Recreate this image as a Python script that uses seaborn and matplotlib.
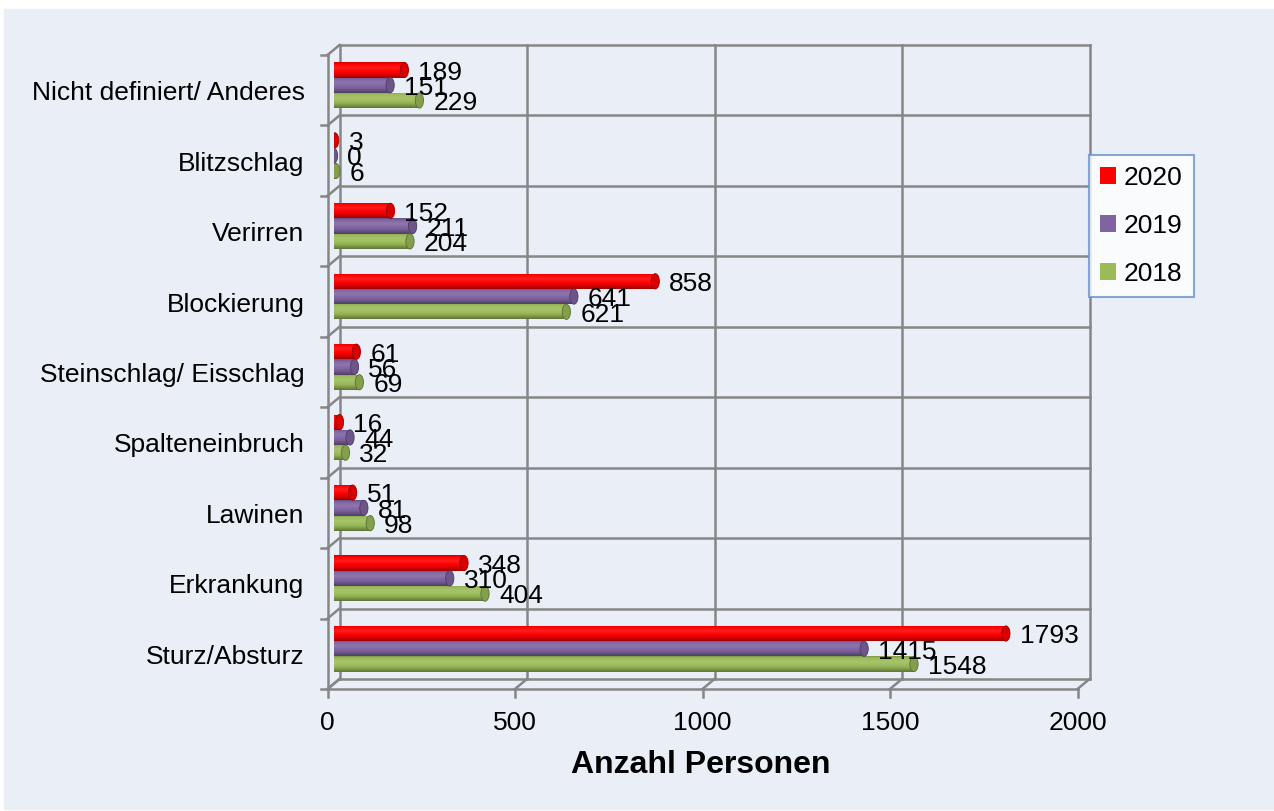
import numpy as np
import pandas as pd
import matplotlib
matplotlib.use("Agg")
import matplotlib.pyplot as plt
import seaborn as sns
from matplotlib.transforms import ScaledTranslation, IdentityTransform
from matplotlib.patches import Rectangle, Ellipse
from matplotlib.lines import Line2D
from matplotlib.colors import to_rgb

# data, top to bottom as in the chart
categories = ["Nicht definiert/ Anderes", "Blitzschlag", "Verirren", "Blockierung",
              "Steinschlag/ Eisschlag", "Spalteneinbruch", "Lawinen", "Erkrankung",
              "Sturz/Absturz"]
years = ["2020", "2019", "2018"]
v2020 = [189, 3, 152, 858, 61, 16, 51, 348, 1793]
v2019 = [151, 0, 211, 641, 56, 44, 81, 310, 1415]
v2018 = [229, 6, 204, 621, 69, 32, 98, 404, 1548]
xticks = [0, 500, 1000, 1500, 2000]

colors = {"2020": "#ff0000", "2019": "#8064a2", "2018": "#9bbb59"}
grid_col = "#868686"
bg = "#eaeff7"

df = pd.DataFrame({
    "Kategorie": categories * 3,
    "Jahr": ["2020"] * 9 + ["2019"] * 9 + ["2018"] * 9,
    "Anzahl": v2020 + v2019 + v2018,
})

plt.rcParams["font.family"] = ["Liberation Sans", "DejaVu Sans"]
fs = 19


def shade(c, f):
    c = np.array(to_rgb(c))
    if f >= 1:
        return c + (1 - c) * (f - 1)
    return c * f


fig = plt.figure(figsize=(12.74, 8.11), dpi=100, facecolor="white")
fig.patches.append(Rectangle((4 / 1274, 2 / 811), 1270 / 1274, 800 / 811,
                             transform=fig.transFigure, color=bg, zorder=-10))
ax = fig.add_axes([333.5 / 1274, 127 / 811, 750 / 1274, 634 / 811])
ax.set_facecolor("none")

sns.barplot(data=df, y="Kategorie", x="Anzahl", hue="Jahr", hue_order=years,
            order=categories, palette=colors, orient="h", width=0.65,
            errorbar=None, ax=ax, zorder=3, saturation=1)
ax.set_xlim(0, 2000)
ax.set_ylim(len(categories) - 0.5, -0.5)

# cylinder-like shading of every bar
prof_t = [0.0, 0.12, 0.35, 0.7, 1.0]
prof_f = [0.82, 1.0, 1.12, 0.95, 0.62]
tt = np.linspace(0, 1, 40)
ff = np.interp(tt, prof_t, prof_f)
cap_w = 22
for cont, yr in zip(ax.containers, years):
    grad = np.array([shade(colors[yr], f) for f in ff])[:, None, :]
    for p in cont:
        x0, y0 = p.get_x(), p.get_y()
        w, hgt = p.get_width(), p.get_height()
        p.set_facecolor("none")
        p.set_edgecolor("none")
        im = ax.imshow(grad, extent=(x0, x0 + w, y0 + hgt, y0), aspect="auto",
                       interpolation="bilinear", zorder=3)
        im.set_clip_path(p)
        ax.add_patch(Ellipse((x0 + w, y0 + hgt / 2), cap_w, hgt,
                             facecolor=shade(colors[yr], 0.85),
                             edgecolor=shade(colors[yr], 0.6), lw=0.6, zorder=3.5))
        ax.add_patch(Ellipse((x0, y0 + hgt / 2), cap_w, hgt,
                             facecolor=shade(colors[yr], 0.95), edgecolor="none", zorder=2.9))
    anns = ax.bar_label(cont, fmt="{:.0f}", padding=10, fontsize=fs, color="black")
    for a in anns:
        a.xyann = (10, -2)
        a.set_zorder(5)

ax.set_xlim(0, 2000)
ax.set_ylim(len(categories) - 0.5, -0.5)
for s in ax.spines.values():
    s.set_visible(False)
ax.set_xticks(xticks)
ax.set_xticklabels([])
ax.set_yticks(range(len(categories)))
ax.set_yticklabels([])
ax.tick_params(length=0)
ax.set_xlabel("")
ax.set_ylabel("")

back = ax.transData + ScaledTranslation(6 / 100, 5 / 100, fig.dpi_scale_trans)
front = ax.transData + ScaledTranslation(-6 / 100, -5 / 100, fig.dpi_scale_trans)
lw = 1.8
bounds = np.arange(-0.5, len(categories), 1.0)
y_bot, y_top = len(categories) - 0.5, -0.5

# back wall grid
for v in xticks:
    ax.plot([v, v], [y_bot, y_top], transform=back, color=grid_col, lw=lw, zorder=1, clip_on=False)
for b in bounds:
    ax.plot([0, 2000], [b, b], transform=back, color=grid_col, lw=lw, zorder=1, clip_on=False)

# front axis lines
ax.plot([0, 0], [y_bot, y_top], transform=front, color=grid_col, lw=lw, zorder=1, clip_on=False)
ax.plot([0, 2000], [y_bot, y_bot], transform=front, color=grid_col, lw=lw, zorder=1, clip_on=False)


def seg(p, q):
    fig.add_artist(Line2D([p[0], q[0]], [p[1], q[1]], transform=IdentityTransform(),
                          color=grid_col, lw=lw, zorder=1))


for b in bounds:
    d = ax.transData.transform((0, b))
    seg((d[0] - 6, d[1] - 5), (d[0] + 6, d[1] + 5))
    seg((d[0] - 6, d[1] - 5), (d[0] - 13, d[1] - 5))
for v in xticks:
    d = ax.transData.transform((v, y_bot))
    seg((d[0] - 6, d[1] - 5), (d[0] + 6, d[1] + 5))
    seg((d[0] - 6, d[1] - 5), (d[0] - 6, d[1] - 13))
    ax.text(v, y_bot, str(v), transform=front + ScaledTranslation(0, -0.22, fig.dpi_scale_trans),
            ha="center", va="top", fontsize=fs)

for i, c in enumerate(categories):
    ax.text(0, i, c, transform=front + ScaledTranslation(-0.23, -0.03, fig.dpi_scale_trans),
            ha="right", va="center", fontsize=fs)

fig.text(701 / 1274, 1 - 765 / 811, "Anzahl Personen", ha="center", va="center",
         fontsize=23, fontweight="bold")

h, l = ax.get_legend_handles_labels()
leg = ax.legend(h, l, loc="upper left", bbox_to_anchor=(1089 / 1274, 1 - 155 / 811),
                bbox_transform=fig.transFigure, fontsize=fs, frameon=True, fancybox=False,
                handlelength=0.6, handleheight=0.6, handletextpad=0.3, borderpad=0.42,
                labelspacing=0.9, borderaxespad=0)
leg.get_frame().set_edgecolor("#6a93c8")
leg.get_frame().set_linewidth(1.5)
leg.get_frame().set_facecolor("white")
for hd, yr in zip(leg.legend_handles, years):
    hd.set_facecolor(colors[yr])
    hd.set_edgecolor("none")

fig.savefig("out.png", dpi=100, facecolor="white")
